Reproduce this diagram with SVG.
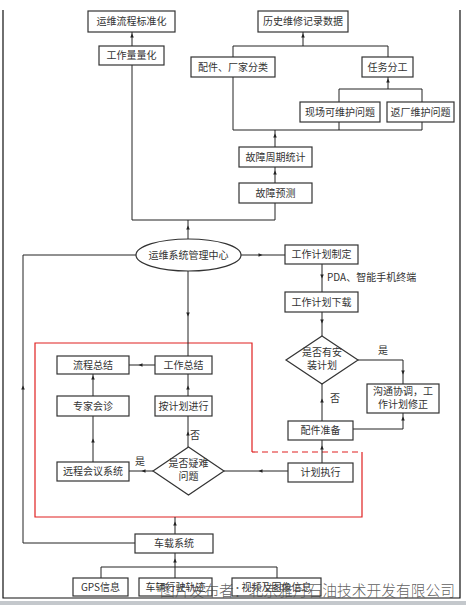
<svg xmlns="http://www.w3.org/2000/svg" xmlns:xlink="http://www.w3.org/1999/xlink" width="466" height="605" viewBox="0 0 466 605">
<style>
.b{fill:#fff;stroke:#333;stroke-width:1.2}
.t{font-family:"Noto Sans CJK SC","Liberation Serif",sans-serif;font-size:10px;fill:#333;text-anchor:middle}
.l{font-family:"Noto Sans CJK SC","Liberation Serif",sans-serif;font-size:10px;fill:#333}
.c{fill:none;stroke:#222;stroke-width:1}
.r{fill:none;stroke:#e02020;stroke-width:1.2}
.wm{font-family:"Noto Sans CJK SC",sans-serif;font-size:15px;font-weight:300;fill:#444;fill-opacity:0.85}
</style>
<defs>
<path id="ah" d="M1.5,0 L-2.5,-1.8 L-2.5,1.8 Z" fill="#222"/>
</defs>
<rect width="466" height="605" fill="#fff"/>
<g id="frame">
<path d="M3,10 V598 H460 V10" fill="none" stroke="#111" stroke-width="1.2"/>
<rect x="0" y="601" width="466" height="4" fill="#c4c8cc"/>
</g>
<g id="redbox">
<path class="r" d="M252,452 V343 H35 V517 H362 V452"/>
<path class="r" d="M252,452 H362" stroke-dasharray="6,4"/>
</g>
<g id="connectors">
<path class="c" d="M132,46 V32"/>
<path class="c" d="M132,65 V220 H275 V203"/>
<path class="c" d="M275,183 V167"/>
<path class="c" d="M275,147 V130"/>
<path class="c" d="M233,77 V130 H422 V122"/>
<path class="c" d="M339,122 V130"/>
<path class="c" d="M233,57 V46 H388 V57"/>
<path class="c" d="M303,46 V32"/>
<path class="c" d="M388,89 V77"/>
<path class="c" d="M339,102 V89 H422 V102"/>
<path class="c" d="M188,220 V239"/>
<path class="c" d="M241,255 H285"/>
<path class="c" d="M136,255 H23 V543 H135"/>
<path class="c" d="M322,264 V292"/>
<path class="c" d="M322,312 V336"/>
<path class="c" d="M358,360 H403 V384"/>
<path class="c" d="M403,413 V429 H353"/>
<path class="c" d="M322,384 V421"/>
<path class="c" d="M322,440 V463"/>
<path class="c" d="M288,471 H224"/>
<path class="c" d="M153,471 H129"/>
<path class="c" d="M188,447 V416"/>
<path class="c" d="M188,396 V374"/>
<path class="c" d="M188,271 V356"/>
<path class="c" d="M155,365 H129"/>
<path class="c" d="M93,462 V416"/>
<path class="c" d="M93,396 V374"/>
<path class="c" d="M175,534 V517"/>
<path class="c" d="M175,578 V553"/>
<path class="c" d="M101,578 V567 H277 V578"/>
<use xlink:href="#ah" transform="translate(132,35) rotate(-90)"/>
<use xlink:href="#ah" transform="translate(303,35) rotate(-90)"/>
<use xlink:href="#ah" transform="translate(388,80) rotate(-90)"/>
<use xlink:href="#ah" transform="translate(275,135) rotate(-90)"/>
<use xlink:href="#ah" transform="translate(275,172) rotate(-90)"/>
<use xlink:href="#ah" transform="translate(188,227) rotate(-90)"/>
<use xlink:href="#ah" transform="translate(261,255)"/>
<use xlink:href="#ah" transform="translate(322,277) rotate(90)"/>
<use xlink:href="#ah" transform="translate(322,322) rotate(90)"/>
<use xlink:href="#ah" transform="translate(403,373) rotate(90)"/>
<use xlink:href="#ah" transform="translate(403,418) rotate(-90)"/>
<use xlink:href="#ah" transform="translate(322,400) rotate(-90)"/>
<use xlink:href="#ah" transform="translate(322,447) rotate(-90)"/>
<use xlink:href="#ah" transform="translate(260,471) rotate(180)"/>
<use xlink:href="#ah" transform="translate(143,471) rotate(180)"/>
<use xlink:href="#ah" transform="translate(188,433) rotate(-90)"/>
<use xlink:href="#ah" transform="translate(188,387) rotate(-90)"/>
<use xlink:href="#ah" transform="translate(188,315) rotate(90)"/>
<use xlink:href="#ah" transform="translate(140,365) rotate(180)"/>
<use xlink:href="#ah" transform="translate(93,440) rotate(-90)"/>
<use xlink:href="#ah" transform="translate(93,377) rotate(-90)"/>
<use xlink:href="#ah" transform="translate(23,387) rotate(-90)"/>
<use xlink:href="#ah" transform="translate(175,523) rotate(-90)"/>
<use xlink:href="#ah" transform="translate(175,560) rotate(-90)"/>
<text class="l" x="327" y="281">PDA、智能手机终端</text>
<text class="l" x="378" y="354">是</text>
<text class="l" x="330" y="402">否</text>
<text class="l" x="190" y="439">否</text>
<text class="l" x="135" y="465">是</text>
</g>
<g id="n1"><rect class="b" x="88" y="11" width="87" height="21"/><text class="t" x="131.5" y="25">运维流程标准化</text></g>
<g id="n2"><rect class="b" x="99" y="46" width="65" height="19"/><text class="t" x="131.5" y="59">工作量量化</text></g>
<g id="n3"><rect class="b" x="258" y="11" width="90" height="21"/><text class="t" x="303" y="25">历史维修记录数据</text></g>
<g id="n4"><rect class="b" x="191" y="57" width="84" height="20"/><text class="t" x="233" y="70.5">配件、厂家分类</text></g>
<g id="n5"><rect class="b" x="362" y="57" width="51" height="20"/><text class="t" x="387.5" y="70.5">任务分工</text></g>
<g id="n6"><rect class="b" x="300" y="102" width="80" height="20"/><text class="t" x="340" y="115.5">现场可维护问题</text></g>
<g id="n7"><rect class="b" x="387" y="102" width="67" height="20"/><text class="t" x="420.5" y="115.5">返厂维护问题</text></g>
<g id="n8"><rect class="b" x="239" y="147" width="73" height="20"/><text class="t" x="275.5" y="160.5">故障周期统计</text></g>
<g id="n9"><rect class="b" x="239" y="183" width="73" height="20"/><text class="t" x="275.5" y="196.5">故障预测</text></g>
<g id="n10"><ellipse class="b" cx="188.5" cy="255" rx="52.5" ry="16"/><text class="t" x="188.5" y="258.5">运维系统管理中心</text></g>
<g id="n11"><rect class="b" x="285" y="245" width="73" height="19"/><text class="t" x="321.5" y="258">工作计划制定</text></g>
<g id="n12"><rect class="b" x="285" y="292" width="73" height="20"/><text class="t" x="321.5" y="305.5">工作计划下载</text></g>
<g id="n13"><path class="b" d="M322,336 L358,360 L322,384 L286,360 Z"/><text class="t" x="322" y="356">是否有安</text><text class="t" x="322" y="369">装计划</text></g>
<g id="n14"><rect class="b" x="367" y="384" width="72" height="29"/><text class="t" x="403" y="395">沟通协调，工</text><text class="t" x="403" y="408">作计划修正</text></g>
<g id="n15"><rect class="b" x="288" y="421" width="65" height="19"/><text class="t" x="320.5" y="434">配件准备</text></g>
<g id="n16"><rect class="b" x="288" y="463" width="65" height="19"/><text class="t" x="320.5" y="476">计划执行</text></g>
<g id="n17"><path class="b" d="M188.5,447 L224,471 L188.5,495 L153,471 Z"/><text class="t" x="188.5" y="467">是否疑难</text><text class="t" x="188.5" y="480">问题</text></g>
<g id="n18"><rect class="b" x="57" y="462" width="72" height="19"/><text class="t" x="93" y="475">远程会议系统</text></g>
<g id="n19"><rect class="b" x="57" y="396" width="72" height="20"/><text class="t" x="93" y="409.5">专家会诊</text></g>
<g id="n20"><rect class="b" x="57" y="356" width="72" height="18"/><text class="t" x="93" y="368.5">流程总结</text></g>
<g id="n21"><rect class="b" x="155" y="356" width="57" height="18"/><text class="t" x="183.5" y="368.5">工作总结</text></g>
<g id="n22"><rect class="b" x="155" y="396" width="57" height="20"/><text class="t" x="183.5" y="409.5">按计划进行</text></g>
<g id="n23"><rect class="b" x="135" y="534" width="78" height="19"/><text class="t" x="174" y="547">车载系统</text></g>
<g id="n24"><rect class="b" x="73" y="578" width="55" height="18"/><text class="t" x="100.5" y="590.5">GPS信息</text></g>
<g id="n25"><rect class="b" x="139" y="578" width="73" height="18"/><text class="t" x="175.5" y="590.5">车辆行驶轨迹</text></g>
<g id="n26"><rect class="b" x="232" y="578" width="89" height="18"/><text class="t" x="276.5" y="590.5">视频及图像信息</text></g>
<g id="watermark"><text class="wm" x="160" y="596" textLength="295" lengthAdjust="spacingAndGlyphs">图片发布者：北京雅丹石油技术开发有限公司</text></g>
</svg>
